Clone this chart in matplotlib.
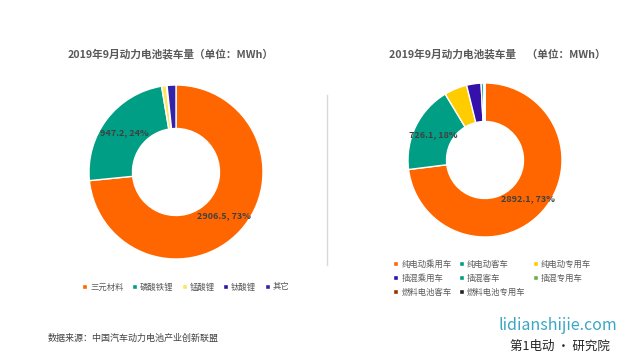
import matplotlib
matplotlib.use("Agg")
import matplotlib.pyplot as plt
import numpy as np

plt.rcParams["font.family"] = ["Noto Sans CJK SC", "DejaVu Sans"]

# left donut: by battery chemistry (MWh)
chem_labels = ["三元材料", "磷酸铁锂", "锰酸锂", "钛酸锂", "其它"]
chem_values = [2906.5, 947.2, 35.0, 5.0, 65.0]
chem_colors = ["#FF6600", "#009E84", "#FFE45C", "#3311AA", "#3322AA"]

# right donut: by vehicle type (MWh)
veh_labels = ["纯电动乘用车", "纯电动客车", "纯电动专用车", "插混乘用车",
              "插混客车", "插混专用车", "燃料电池客车", "燃料电池专用车"]
veh_values = [2892.1, 726.1, 190.0, 120.0, 20.0, 2.0, 5.0, 5.0]
veh_colors = ["#FF6600", "#009E84", "#FFCC00", "#3311AA",
              "#009E84", "#70AD47", "#993300", "#222222"]

W, H = 640, 360
fig = plt.figure(figsize=(6.4, 3.6), dpi=100)
fig.patch.set_facecolor("white")


def donut(cx, cy, r, values, colors, n_labels):
    ax = fig.add_axes([(cx - r) / W, (H - cy - r) / H, 2 * r / W, 2 * r / H])
    wedges, _ = ax.pie(values, colors=colors, startangle=90, counterclock=False,
                       radius=1.0, wedgeprops=dict(width=0.5, edgecolor="white", linewidth=1))
    ax.set_xlim(-1, 1)
    ax.set_ylim(-1, 1)
    ax.axis("off")
    total = sum(values)
    for w, v in list(zip(wedges, values))[:n_labels]:
        mid = np.deg2rad((w.theta1 + w.theta2) / 2)
        ax.text(0.75 * np.cos(mid), 0.75 * np.sin(mid), f"{v}, {v / total:.0%}",
                ha="center", va="center", fontsize=6.5, fontweight="bold", color="#404040")
    return wedges


w_left = donut(176, 172, 87, chem_values, chem_colors, 2)
w_right = donut(485, 160, 77, veh_values, veh_colors, 2)

fig.text(171 / W, 1 - 54 / H, "2019年9月动力电池装车量（单位：MWh）", ha="center", va="center",
         fontsize=7.7, fontweight="bold", color="#595959")
fig.text(497 / W, 1 - 54 / H, "2019年9月动力电池装车量　（单位：MWh）", ha="center", va="center",
         fontsize=7.7, fontweight="bold", color="#595959")

# divider
fig.add_artist(plt.Line2D([327 / W, 327 / W], [1 - 95 / H, 1 - 265 / H], color="#D9D9D9", lw=1))

leg_kw = dict(frameon=False, fontsize=6.0, handlelength=0.6, handleheight=0.6,
              handletextpad=0.35, labelcolor="#595959", borderaxespad=0)
fig.legend(w_left, chem_labels, loc="center left", bbox_to_anchor=(79 / W, 1 - 287 / H),
           ncol=5, columnspacing=1.0, **leg_kw)

# legend fills column-wise; reorder so it reads row by row
order = [0, 3, 6, 1, 4, 7, 2, 5]
fig.legend([w_right[i] for i in order], [veh_labels[i] for i in order],
           loc="center left", bbox_to_anchor=(390 / W, 1 - 278 / H),
           ncol=3, columnspacing=0.9, labelspacing=0.6, **leg_kw)

fig.text(48 / W, 1 - 338 / H, "数据来源：中国汽车动力电池产业创新联盟", ha="left", va="center",
         fontsize=6.5, color="#404040")

# watermark
fig.text(558 / W, 1 - 326 / H, "lidianshijie.com", ha="center", va="center",
         fontsize=11.5, color="#3AA6C4")
fig.text(560 / W, 1 - 346 / H, "第1电动 · 研究院", ha="center", va="center",
         fontsize=9, color="#222222")

fig.savefig("out.png", dpi=100, facecolor="white")
